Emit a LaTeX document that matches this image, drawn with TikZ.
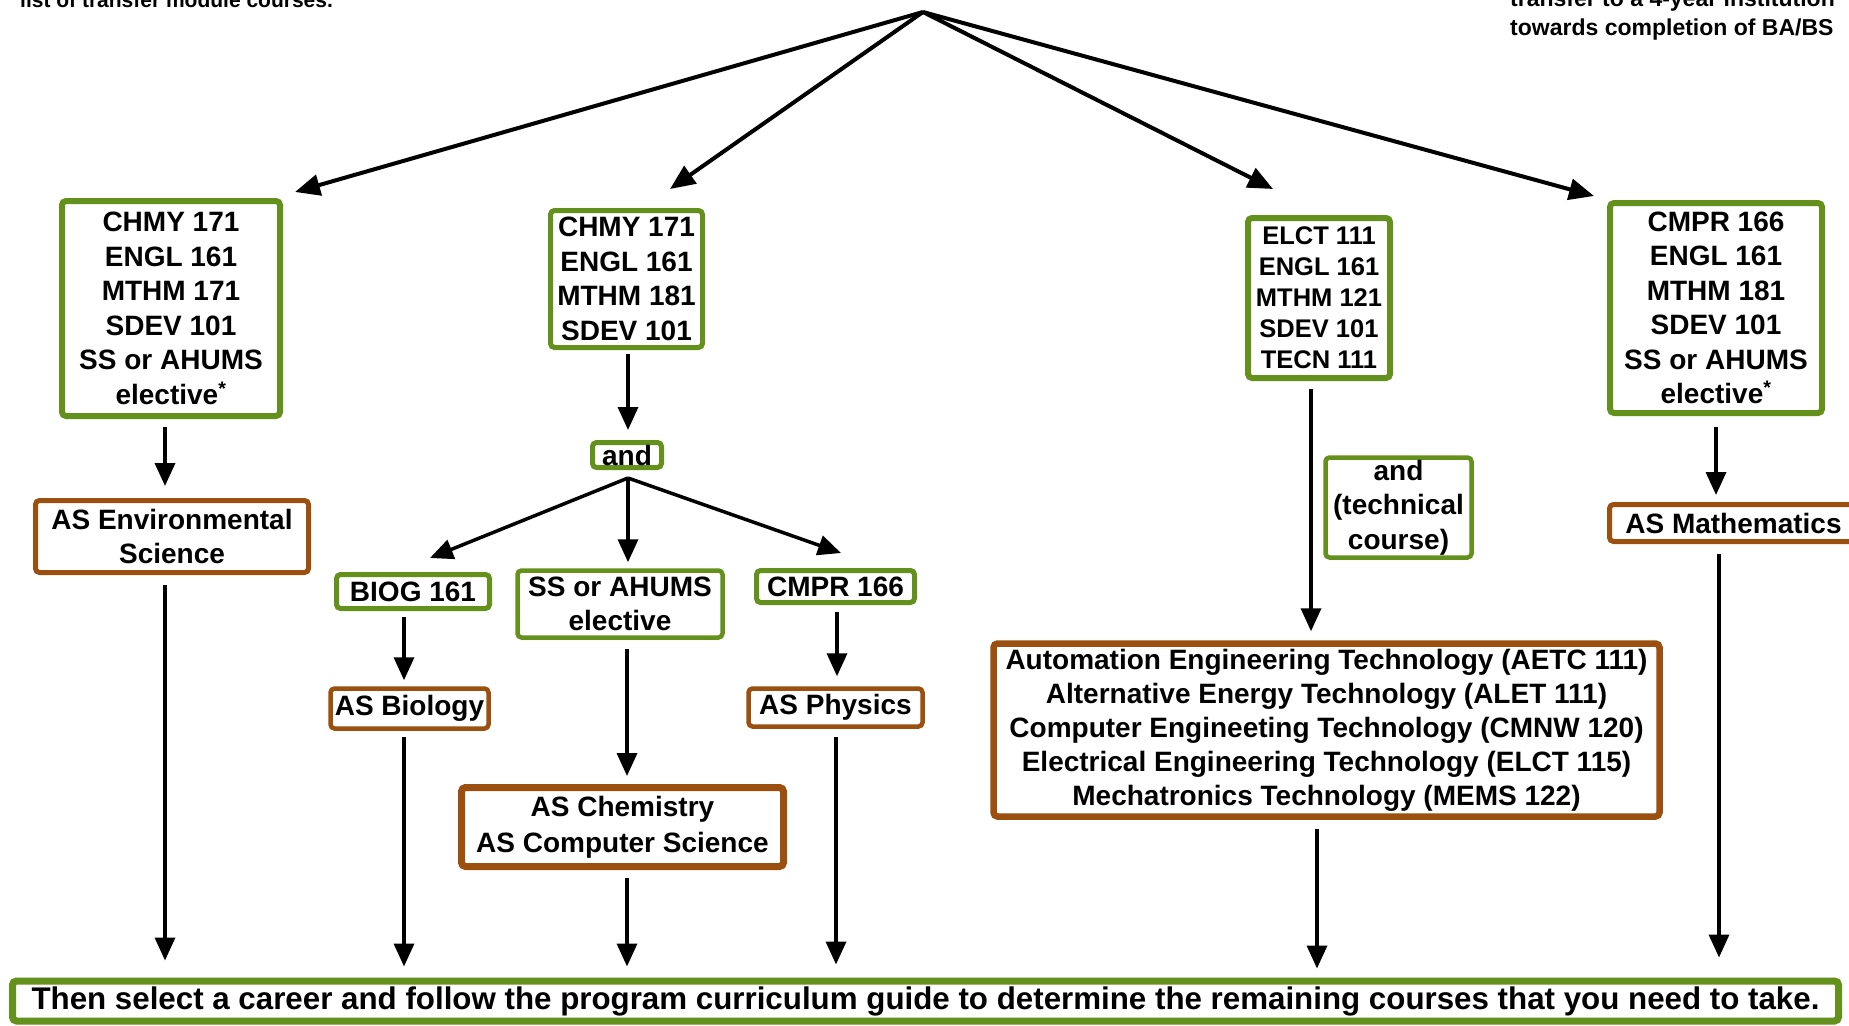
\documentclass[tikz,border=0pt]{standalone}
\usepackage{fontspec}
\setmainfont{Liberation Sans}
\usetikzlibrary{arrows.meta,calc}
\definecolor{grn}{RGB}{100,145,28}
\definecolor{brn}{RGB}{155,80,15}
\tikzset{
 box/.style={fill=white, line width=6pt, rounded corners=4pt, align=center, inner sep=0pt, font=\bfseries\fontsize{28}{34.5}\selectfont},
 gbox/.style={box, draw=grn},
 bbox/.style={box, draw=brn},
 arr/.style={line width=3.5pt, -{Triangle[length=23pt,width=20pt]}},
 toparr/.style={line width=4pt, -{Triangle[length=25pt,width=21pt]}},
 note/.style={font=\bfseries\fontsize{23}{29}\selectfont, inner sep=0pt}
}
\begin{document}
\begin{tikzpicture}[x=1pt,y=-1pt]
\useasboundingbox (0,0) rectangle (1849,1025);
\fill[white] (0,0) rectangle (1849,1025);
\clip (0,0) rectangle (1849,1025);

% top notes (cut off by the frame, as in the reference)
\node[note, font=\bfseries\fontsize{21}{26}\selectfont, anchor=base west] (noteL) at (20,8) {list of transfer module courses.};
\node[note, anchor=base west] (noteR1) at (1510,7) {transfer to a 4-year institution};
\node[note, anchor=base west] (noteR2) at (1510,36) {towards completion of BA/BS};
\coordinate (apex) at (923,12);

% first row
\node[gbox, minimum width=218pt, minimum height=215pt] (A) at (171,308.5) {CHMY 171\\ENGL 161\\MTHM 171\\SDEV 101\\SS or AHUMS\\ elective\textsuperscript{*}};
\node[gbox, line width=5pt, minimum width=152pt, minimum height=137pt] (B) at (626.5,279) {CHMY 171\\ENGL 161\\MTHM 181\\SDEV 101};
\node[gbox, minimum width=142pt, minimum height=160pt, font=\bfseries\fontsize{25.5}{31}\selectfont] (C) at (1319,298) {ELCT 111\\ENGL 161\\MTHM 121\\SDEV 101\\TECN 111};
\node[gbox, minimum width=212pt, minimum height=210pt] (D) at (1716,308) {CMPR 166\\ENGL 161\\MTHM 181\\SDEV 101\\SS or AHUMS\\ elective\textsuperscript{*}};

% second level
\node[bbox, line width=5pt, minimum width=273pt, minimum height=72pt] (Env) at (172,536.5) {AS Environmental\\Science};
\node[gbox, line width=5pt, minimum width=69pt, minimum height=25pt] (andb) at (627,455) {and};
\node[gbox, line width=4.5pt, minimum width=146pt, minimum height=100pt] (tech) at (1398.5,507.5) {and\\(technical\\course)};
\node[bbox, line width=5pt, minimum width=248pt, minimum height=37pt] (Math) at (1733.5,523) {AS Mathematics};

% third level
\node[gbox, line width=5pt, minimum width=153pt, minimum height=34pt] (BIOG) at (413,591.5) {BIOG 161};
\node[gbox, line width=4.5pt, minimum width=205pt, minimum height=67pt] (SS) at (620,604) {SS or AHUMS\\elective};
\node[gbox, line width=5pt, minimum width=158pt, minimum height=32pt] (CMPR) at (835.5,586.5) {CMPR 166};

\node[bbox, line width=4.5pt, minimum width=158pt, minimum height=40pt] (Bio) at (409.5,708.5) {AS Biology};
\node[bbox, line width=4.5pt, minimum width=174pt, minimum height=38pt] (Phys) at (835.5,707.5) {AS Physics};
\node[bbox, line width=7pt, minimum width=322pt, minimum height=79pt, font=\bfseries\fontsize{28}{36}\selectfont] (Chem) at (622.5,827) {AS Chemistry\\AS Computer Science};
\node[bbox, line width=6.5pt, minimum width=666pt, minimum height=173pt, font=\bfseries\fontsize{28}{34}\selectfont] (Big) at (1326.5,730) {Automation Engineering Technology (AETC 111)\\Alternative Energy Technology (ALET 111)\\Computer Engineeting Technology (CMNW 120)\\Electrical Engineering Technology (ELCT 115)\\Mechatronics Technology (MEMS 122)};

% bottom bar
\node[gbox, line width=7pt, minimum width=1826pt, minimum height=40pt, font=\bfseries\fontsize{31.3}{36}\selectfont] (bot) at (925.5,1001) {Then select a career and follow the program curriculum guide to determine the remaining courses that you need to take.};

% top fan
\draw[toparr] (apex) -- ($(A.north east)+(12,-6)$);
\draw[toparr] (apex) -- ($(B.north)+(43.5,-19)$);
\draw[toparr] (apex) -- ($(C.north)+(-46,-26)$);
\draw[toparr] (apex) -- ($(D.north west)+(-13,-4)$);

% column 1
\draw[arr] ($(A.south)+(-6,8)$) -- ($(Env.north)+(-7,-12)$);
\draw[arr] ($(Env.south)+(-7,10)$) -- ($(Env.south |- bot.north)+(-7,-17)$);

% column 2
\draw[arr] ($(B.south)+(1.5,4)$) -- ($(andb.north)+(1,-10)$);
\coordinate (fan) at ($(andb.south)+(1,8)$);
\draw[arr] (fan) -- ($(BIOG.north)+(17,-14)$);
\draw[arr] (fan) -- ($(SS.north)+(8,-6)$);
\draw[arr] (fan) -- ($(CMPR.north)+(5.5,-15)$);
\draw[arr] ($(BIOG.south)+(-9,6)$) -- ($(Bio.north)+(-5.5,-6)$);
\draw[arr] ($(Bio.south)+(-5.5,6)$) -- ($(Bio.south |- bot.north)+(-5.5,-11)$);
\draw[arr] ($(SS.south)+(7,9)$) -- ($(Chem.north)+(4.5,-8)$);
\draw[arr] ($(Chem.south)+(4.5,8)$) -- ($(Chem.south |- bot.north)+(4.5,-11)$);
\draw[arr] ($(CMPR.south)+(1.5,7)$) -- ($(Phys.north)+(1.5,-10)$);
\draw[arr] ($(Phys.south)+(0.5,8)$) -- ($(Phys.south |- bot.north)+(0.5,-13)$);

% column 3
\draw[arr] ($(C.south)+(-8,8)$) -- ($(Big.north)+(-15.5,-9)$);
\draw[arr] ($(Big.south)+(-9.5,9)$) -- ($(Big.south |- bot.north)+(-9.5,-9)$);

% column 4
\draw[arr] ($(D.south)+(0,11)$) -- ($(Math.north)+(-17.5,-7)$);
\draw[arr] ($(Math.south)+(-14.5,10)$) -- ($(Math.south |- bot.north)+(-14.5,-20)$);
\end{tikzpicture}
\end{document}
